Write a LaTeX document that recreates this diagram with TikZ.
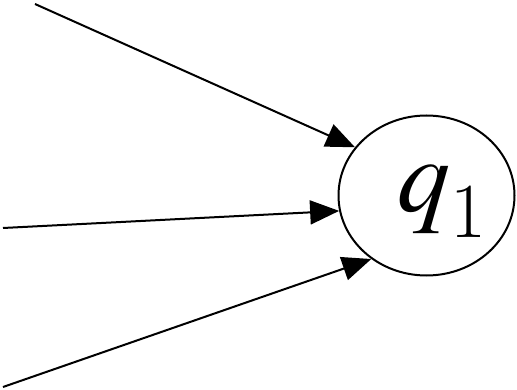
\documentclass[tikz,border=0pt]{standalone}
\usepackage{mathptmx}
\usetikzlibrary{shapes.geometric,arrows.meta}

\begin{document}
\begin{tikzpicture}[
  x=1pt, y=-1pt,
  >={Triangle[length=29pt,width=24pt]},
  state/.style={draw, ellipse, line width=2pt, inner sep=0pt, minimum width=176pt, minimum height=160pt},
  edge/.style={->, line width=2pt}
]
  \useasboundingbox (0,0) rectangle (517,390);
  \node[state] (q1) at (426.5,195.5) {};
  \node[anchor=base west, inner sep=0pt] (lab) at (397,212)
    {\fontsize{106}{106}\selectfont$q$\raisebox{-26pt}{\fontsize{78}{78}\selectfont 1}};
  \coordinate (top) at (35,4);
  \coordinate (mid) at (3,228);
  \coordinate (bot) at (3,387);
  \draw[edge] (top) -- (q1.146);
  \draw[edge] (mid) -- (q1.190);
  \draw[edge] (bot) -- (q1.229);
\end{tikzpicture}
\end{document}
